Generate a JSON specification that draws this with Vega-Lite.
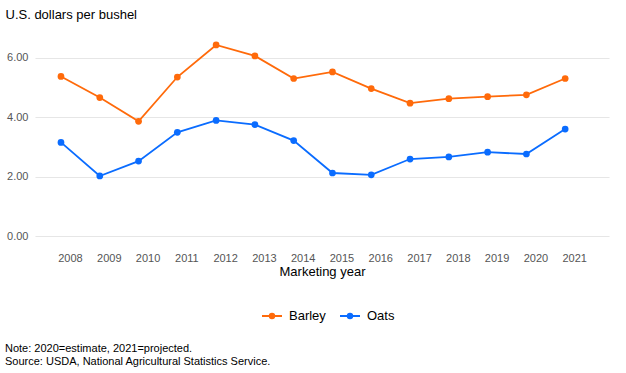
{
  "$schema": "https://vega.github.io/schema/vega-lite/v6.json",
  "width": 574,
  "height": 208,
  "autosize": {"type": "none"},
  "padding": {"left": 35, "top": 28, "right": 17, "bottom": 137},
  "background": "white",
  "config": {
    "font": "Liberation Sans",
    "view": {"stroke": null},
    "axis": {"labelFont": "Liberation Sans", "titleFont": "Liberation Sans"}
  },
  "title": {
    "text": ["Note: 2020=estimate, 2021=projected.", "Source: USDA, National Agricultural Statistics Service."],
    "orient": "bottom",
    "anchor": "start",
    "frame": "group",
    "dx": -30,
    "offset": 20,
    "fontSize": 11,
    "fontWeight": "normal",
    "color": "black",
    "lineHeight": 13,
    "font": "Liberation Sans"
  },
  "data": {
    "values": [
      {"year": 2008, "crop": "Barley", "price": 5.37},
      {"year": 2009, "crop": "Barley", "price": 4.66},
      {"year": 2010, "crop": "Barley", "price": 3.86},
      {"year": 2011, "crop": "Barley", "price": 5.35},
      {"year": 2012, "crop": "Barley", "price": 6.43},
      {"year": 2013, "crop": "Barley", "price": 6.06},
      {"year": 2014, "crop": "Barley", "price": 5.30},
      {"year": 2015, "crop": "Barley", "price": 5.52},
      {"year": 2016, "crop": "Barley", "price": 4.96},
      {"year": 2017, "crop": "Barley", "price": 4.47},
      {"year": 2018, "crop": "Barley", "price": 4.62},
      {"year": 2019, "crop": "Barley", "price": 4.69},
      {"year": 2020, "crop": "Barley", "price": 4.75},
      {"year": 2021, "crop": "Barley", "price": 5.30},
      {"year": 2008, "crop": "Oats", "price": 3.15},
      {"year": 2009, "crop": "Oats", "price": 2.02},
      {"year": 2010, "crop": "Oats", "price": 2.52},
      {"year": 2011, "crop": "Oats", "price": 3.49},
      {"year": 2012, "crop": "Oats", "price": 3.89},
      {"year": 2013, "crop": "Oats", "price": 3.75},
      {"year": 2014, "crop": "Oats", "price": 3.21},
      {"year": 2015, "crop": "Oats", "price": 2.12},
      {"year": 2016, "crop": "Oats", "price": 2.06},
      {"year": 2017, "crop": "Oats", "price": 2.59},
      {"year": 2018, "crop": "Oats", "price": 2.66},
      {"year": 2019, "crop": "Oats", "price": 2.82},
      {"year": 2020, "crop": "Oats", "price": 2.76},
      {"year": 2021, "crop": "Oats", "price": 3.60}
    ]
  },
  "mark": {"type": "line", "strokeWidth": 1.8, "point": {"size": 45, "filled": true, "opacity": 1}},
  "encoding": {
    "x": {
      "field": "year",
      "type": "quantitative",
      "scale": {"domain": [2007.33, 2022.13], "nice": false, "zero": false},
      "axis": {
        "title": "Marketing year",
        "values": [2008, 2009, 2010, 2011, 2012, 2013, 2014, 2015, 2016, 2017, 2018, 2019, 2020, 2021],
        "format": "d",
        "grid": false,
        "domain": false,
        "ticks": false,
        "labelOffset": 9,
        "labelPadding": 16,
        "labelFontSize": 11,
        "labelColor": "#555555",
        "titleFontSize": 13,
        "titleFontWeight": "normal",
        "titleColor": "black",
        "titlePadding": 2
      }
    },
    "y": {
      "field": "price",
      "type": "quantitative",
      "scale": {"domain": [0, 7], "nice": false},
      "axis": {
        "title": "U.S. dollars per bushel",
        "values": [0, 2, 4, 6],
        "format": ".2f",
        "domain": false,
        "ticks": false,
        "gridColor": "#e6e6e6",
        "gridWidth": 1.2,
        "labelPadding": 7,
        "labelFontSize": 11,
        "labelColor": "#555555",
        "titleAngle": 0,
        "titleAlign": "left",
        "titleBaseline": "alphabetic",
        "titleX": -30,
        "titleY": -10,
        "titleFontSize": 13,
        "titleFontWeight": "normal",
        "titleColor": "black"
      }
    },
    "color": {
      "field": "crop",
      "type": "nominal",
      "scale": {"domain": ["Barley", "Oats"], "range": ["#ff6a0a", "#0a6cff"]},
      "legend": {
        "title": null,
        "orient": "none",
        "direction": "horizontal",
        "legendX": 226,
        "legendY": 277,
        "symbolType": "M-1,0H1M-0.22,0A0.22,0.22 0 1,0 0.22,0A0.22,0.22 0 1,0 -0.22,0",
        "symbolSize": 400,
        "symbolStrokeWidth": 2,
        "labelFontSize": 13,
        "labelColor": "black",
        "labelOffset": 6,
        "columnPadding": 10
      }
    }
  }
}
